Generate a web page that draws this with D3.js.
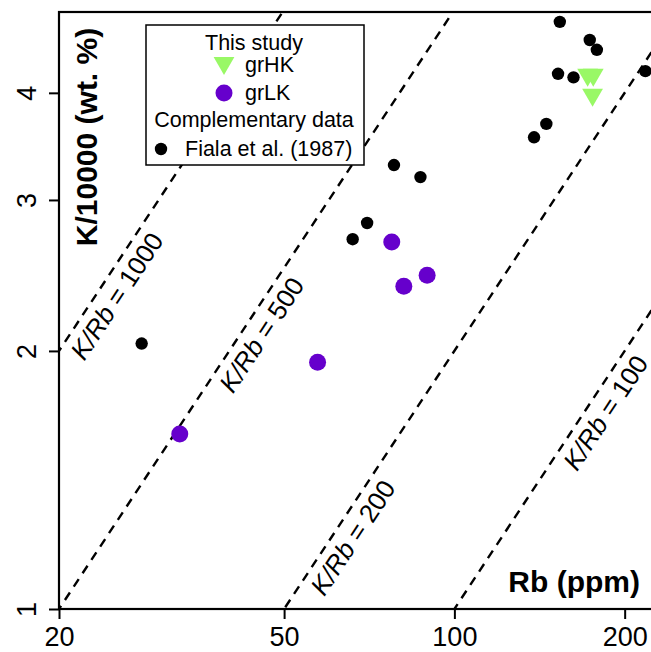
<!DOCTYPE html>
<html>
<head>
<meta charset="utf-8">
<script src="https://cdn.jsdelivr.net/npm/d3@7"></script>
<style>
  body { margin: 0; background: #fff; }
  svg { display: block; font-family: "Liberation Sans", Arial, sans-serif; }
</style>
</head>
<body>
<div id="chart"></div>
<script>
// data
const fialaRb = [153.6, 173.5, 178.6, 152.5, 162.4, 217.6, 145.4, 138.3, 78.2, 87.1, 70.1, 66.1, 28.0];
const fialaK  = [4.84, 4.61, 4.49, 4.21, 4.17, 4.24, 3.68, 3.55, 3.295, 3.19, 2.82, 2.70, 2.04];
const grLKRb = [32.7, 57.3, 77.5, 81.4, 89.5];
const grLKK  = [1.60, 1.94, 2.68, 2.38, 2.45];
const grHKRb = [172, 176, 175.5];
const grHKK  = [4.20, 4.20, 3.98];
const ratios = [1000, 500, 200, 100];
const xTicks = [20, 50, 100, 200];
const yTicks = [1, 2, 3, 4];

const width = 651, height = 652;
const mLeft = 59, mTop = 12, mBottom = 609, mRight = 659;
// where along each ratio line the label sits (Rb value)
const labelAt = {1000: 23.8, 500: 42.9, 200: 62.2, 100: 174};

const purple = "#6600cc";
const green = "#99f866";

const svg = d3.select("#chart").append("svg")
    .attr("width", width)
    .attr("height", height);

const x = d3.scaleLog().domain([20, 230]).range([mLeft, mRight]);
const y = d3.scaleLog().domain([1, 4.97]).range([mBottom, mTop]);

svg.append("clipPath").attr("id", "plot")
  .append("rect")
    .attr("x", mLeft).attr("y", mTop)
    .attr("width", mRight - mLeft).attr("height", mBottom - mTop);

// ratio lines
const line = d3.line().x(d => x(d[0])).y(d => y(d[1]));
const lines = svg.append("g").attr("clip-path", "url(#plot)");
ratios.forEach(r => {
  lines.append("path")
    .attr("d", line([[10, 10 * r / 10000], [300, 300 * r / 10000]]))
    .attr("fill", "none")
    .attr("stroke", "#000")
    .attr("stroke-width", 2.4)
    .attr("stroke-dasharray", "9,7");
});

// line labels
const ang = Math.atan2(y(1) - y(10), x(200) - x(20)) * 180 / Math.PI;
const rad = ang * Math.PI / 180;
ratios.forEach(r => {
  const rb = labelAt[r];
  const px = x(rb) + 18 * Math.sin(rad);
  const py = y(rb * r / 10000) + 18 * Math.cos(rad);
  const t = svg.append("text")
    .attr("transform", `translate(${px},${py}) rotate(${-ang})`)
    .attr("text-anchor", "middle")
    .attr("dy", "0.35em")
    .attr("font-size", 26);
  t.append("tspan").attr("font-style", "italic").text("K/Rb");
  t.append("tspan").text(" = " + r);
});

// points
const pts = svg.append("g");
pts.selectAll("circle.fiala")
  .data(d3.zip(fialaRb, fialaK))
  .join("circle")
    .attr("class", "fiala")
    .attr("cx", d => x(d[0]))
    .attr("cy", d => y(d[1]))
    .attr("r", 6.2)
    .attr("fill", "#000");

pts.selectAll("circle.lk")
  .data(d3.zip(grLKRb, grLKK))
  .join("circle")
    .attr("class", "lk")
    .attr("cx", d => x(d[0]))
    .attr("cy", d => y(d[1]))
    .attr("r", 8.5)
    .attr("fill", purple);

const tri = (cx, cy, r) => {
  const c = r * 0.866;
  return `M${cx},${cy + r}L${cx + c},${cy - r / 2}L${cx - c},${cy - r / 2}Z`;
};
pts.selectAll("path.hk")
  .data(d3.zip(grHKRb, grHKK))
  .join("path")
    .attr("class", "hk")
    .attr("d", d => tri(x(d[0]), y(d[1]), 12))
    .attr("fill", green);

// axes
const fs = 27;
svg.append("g")
    .attr("transform", `translate(0,${mBottom})`)
    .call(d3.axisBottom(x).tickValues(xTicks).tickFormat(d3.format("d")).tickSize(10).tickPadding(8))
    .call(g => g.select(".domain").remove())
    .call(g => g.selectAll("line").attr("stroke-width", 2))
    .call(g => g.selectAll("text").attr("font-size", fs).attr("fill", "#000"));

svg.append("g")
    .attr("transform", `translate(${mLeft},0)`)
    .call(d3.axisLeft(y).tickValues(yTicks).tickFormat(d3.format("d")).tickSize(10))
    .call(g => g.select(".domain").remove())
    .call(g => g.selectAll("line").attr("stroke-width", 2))
    .call(g => g.selectAll("text")
        .attr("x", null).attr("dy", null)
        .attr("text-anchor", "middle")
        .attr("transform", "translate(-23,0) rotate(-90)")
        .attr("font-size", fs).attr("fill", "#000"));

svg.selectAll(".tick text").attr("font-family", "Liberation Sans, Arial, sans-serif");
svg.selectAll("g[font-family]").attr("font-family", null);

// plot frame
svg.append("rect")
    .attr("x", mLeft).attr("y", mTop)
    .attr("width", mRight - mLeft).attr("height", mBottom - mTop)
    .attr("fill", "none")
    .attr("stroke", "#000")
    .attr("stroke-width", 2.2);

// axis titles
svg.append("text")
    .attr("transform", `translate(97,${(mTop + 242) / 2 + 10}) rotate(-90)`)
    .attr("text-anchor", "middle")
    .attr("font-weight", "bold")
    .attr("font-size", 30)
    .text("K/10000 (wt. %)");

svg.append("text")
    .attr("x", 640).attr("y", 592)
    .attr("text-anchor", "end")
    .attr("font-weight", "bold")
    .attr("font-size", 30)
    .text("Rb (ppm)");

// legend
const lg = svg.append("g").attr("font-size", 21.5);
lg.append("rect")
    .attr("x", 146).attr("y", 25)
    .attr("width", 218).attr("height", 140)
    .attr("fill", "#fff")
    .attr("stroke", "#000")
    .attr("stroke-width", 1.5);
lg.append("text").attr("x", 254).attr("y", 50).attr("text-anchor", "middle").text("This study");
lg.append("path").attr("d", tri(224, 63, 12)).attr("fill", green);
lg.append("text").attr("x", 245).attr("y", 72).text("grHK");
lg.append("circle").attr("cx", 224).attr("cy", 93).attr("r", 8.5).attr("fill", purple);
lg.append("text").attr("x", 245).attr("y", 100).text("grLK");
lg.append("text").attr("x", 254).attr("y", 127).attr("text-anchor", "middle").text("Complementary data");
lg.append("circle").attr("cx", 161).attr("cy", 149).attr("r", 6.2).attr("fill", "#000");
lg.append("text").attr("x", 185).attr("y", 156).text("Fiala et al. (1987)");
</script>
</body>
</html>
